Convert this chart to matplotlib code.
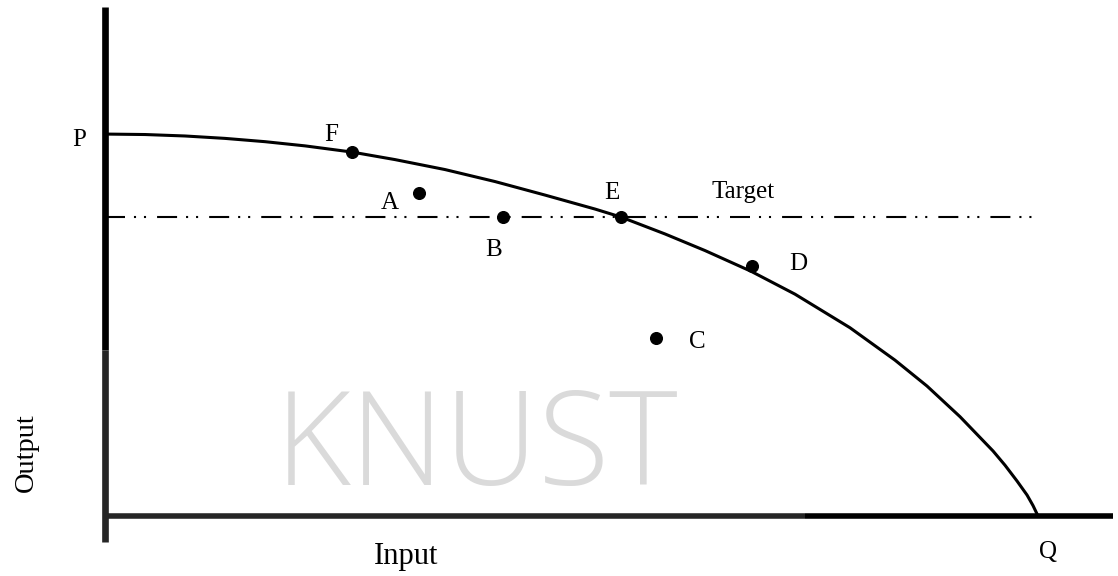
import matplotlib
matplotlib.use("Agg")
import matplotlib.pyplot as plt

# frontier curve (input 0..100 -> Q, output 0..100 -> P)
curve_x = [0, 4.29, 8.57, 12.86, 17.15, 21.44, 26.47, 31.08, 36.44, 41.80, 47.16,
           52.52, 55.31, 60.02, 64.31, 69.24, 73.95, 79.85, 84.67, 88.10, 91.64,
           95.18, 96.46, 97.75, 98.82, 99.46, 100.0]
curve_y = [100.0, 99.88, 99.50, 98.87, 98.01, 96.91, 95.29, 93.32, 90.71, 87.57,
           84.03, 80.37, 78.27, 73.85, 69.50, 64.08, 58.09, 49.29, 40.81, 34.03,
           26.0, 17.02, 13.30, 9.16, 5.50, 2.75, 0]

point_names = ["F", "A", "B", "E", "D", "C"]
point_x = [26.5, 33.7, 42.7, 55.3, 69.3, 59.1]
point_y = [95.3, 84.6, 78.3, 78.3, 65.4, 46.6]

target_level = 78.3
target_end = 99.6

# label anchors
label_pos = {
    "P": (-2.8, 98.4), "F": (24.3, 99.7), "A": (30.5, 81.9), "B": (41.6, 69.6),
    "E": (54.3, 84.6), "Target": (68.4, 84.8), "D": (74.3, 66.0),
    "C": (63.5, 45.5), "Q": (101.1, -9.4),
}

serif = ["Liberation Serif", "DejaVu Serif"]

fig = plt.figure(figsize=(11.18, 5.76), dpi=100)
ax = fig.add_axes([0, 0, 1, 1])
ax.set_xlim(-11.25, 108.57)
ax.set_ylim(-15.7, 135.1)
ax.axis("off")

# watermark
ax.text(39.8, 8.1, "KNUST", fontsize=94, color="#dadada", ha="center",
        va="baseline", family=["Open Sans", "DejaVu Sans"], fontweight="light",
        zorder=0)

# axes lines
ax.plot([0, 0], [133.2, 43.5], color="black", lw=4.8, solid_capstyle="butt")
ax.plot([0, 0], [43.5, -6.8], color="#262626", lw=4.8, solid_capstyle="butt")
ax.plot([0, 75.0], [0, 0], color="#262626", lw=4.0, solid_capstyle="butt")
ax.plot([75.0, 108.0], [0, 0], color="black", lw=4.0, solid_capstyle="butt")

# target line
ax.plot([0, target_end], [target_level, target_level], color="black", lw=1.5,
        dashes=(9.6, 4.3, 1, 3.8, 1, 5.3))

# frontier
ax.plot(curve_x, curve_y, color="black", lw=2.2, solid_joinstyle="round")

# points
ax.plot(point_x, point_y, "o", color="black", markersize=8.4, zorder=5)

for name, (lx, ly) in label_pos.items():
    ax.text(lx, ly, name, fontsize=18, family=serif, ha="center", va="center")

ax.text(32.3, -10.7, "Input", fontsize=22, family=serif, ha="center", va="center")
ax.text(-8.4, 16.5, "Output", fontsize=20.5, family=serif, ha="center",
        va="center", rotation=90)

fig.savefig("out.png", dpi=100)
